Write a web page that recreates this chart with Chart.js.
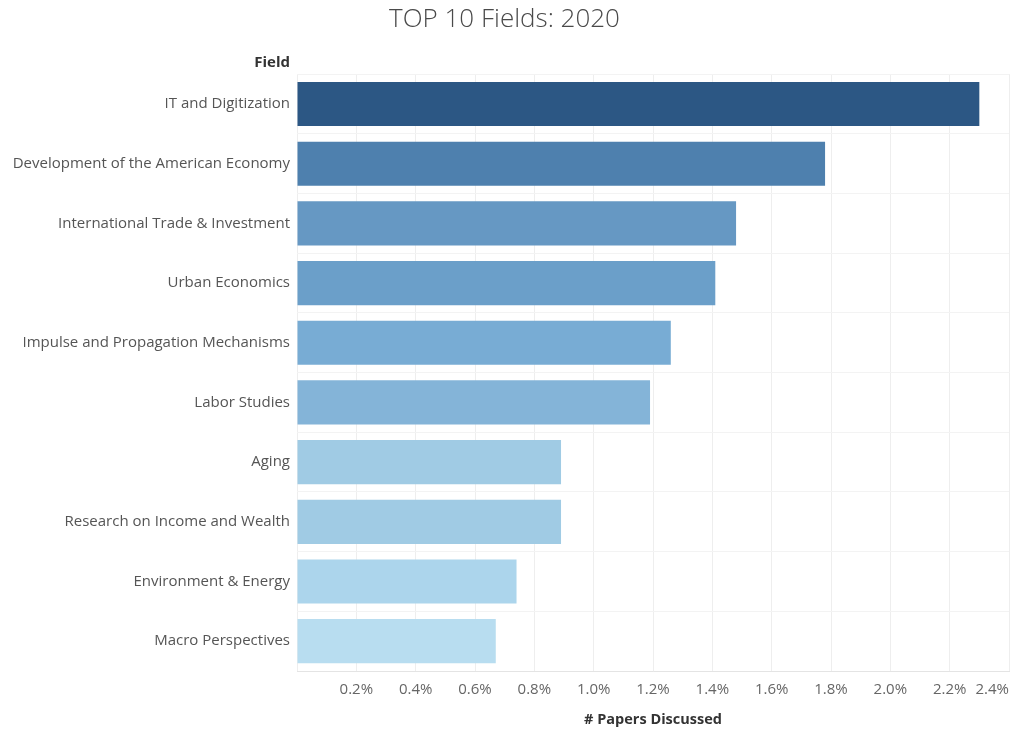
<!DOCTYPE html>
<html>
<head>
<meta charset="utf-8">
<title>TOP 10 Fields: 2020</title>
<script src="https://cdn.jsdelivr.net/npm/chart.js@4"></script>
<style>
  html, body { margin: 0; padding: 0; background: #ffffff; }
  #wrap { width: 1016px; height: 734px; position: relative; }
</style>
</head>
<body>
<div id="wrap"><canvas id="chart"></canvas></div>
<script>
// Share of papers discussed, by field (percent)
const fields = [
  'IT and Digitization',
  'Development of the American Economy',
  'International Trade & Investment',
  'Urban Economics',
  'Impulse and Propagation Mechanisms',
  'Labor Studies',
  'Aging',
  'Research on Income and Wealth',
  'Environment & Energy',
  'Macro Perspectives'
];
const sharePct = [2.30, 1.78, 1.48, 1.41, 1.26, 1.19, 0.89, 0.89, 0.74, 0.67];
const tickValues = [0.2, 0.4, 0.6, 0.8, 1.0, 1.2, 1.4, 1.6, 1.8, 2.0, 2.2, 2.4];

// Sequential blue shading, darkest for the largest share
const barColors = [
  '#2c5784', '#4e80ae', '#6698c3', '#6b9fc9', '#78acd4',
  '#84b4d8', '#a0cbe4', '#a0cbe4', '#acd5ec', '#b8ddf0'
];

const FONT = '"Open Sans", Lato, "DejaVu Sans", sans-serif';

// Column header above the category labels
const fieldHeader = {
  id: 'fieldHeader',
  afterDraw(chart) {
    const y = chart.scales.y;
    const ctx = chart.ctx;
    ctx.save();
    ctx.font = 'bold 15px ' + FONT;
    ctx.fillStyle = '#333333';
    ctx.textAlign = 'right';
    ctx.textBaseline = 'middle';
    ctx.fillText('Field', y.right - 7, 63);
    ctx.restore();
  }
};

new Chart(document.getElementById('chart'), {
  type: 'bar',
  data: {
    labels: fields,
    datasets: [{
      label: '# Papers Discussed',
      data: sharePct,
      backgroundColor: barColors,
      borderWidth: 0,
      categoryPercentage: 1.0,
      barPercentage: 0.74
    }]
  },
  options: {
    indexAxis: 'y',
    responsive: true,
    maintainAspectRatio: false,
    animation: false,
    layout: { padding: { left: 0, right: 7, top: 0, bottom: 0 } },
    plugins: {
      legend: { display: false },
      tooltip: { enabled: false },
      title: {
        display: true,
        text: 'TOP 10 Fields: 2020',
        color: '#4a4a4a',
        font: { family: FONT, size: 26, weight: 300 },
        padding: { top: 4, bottom: 39 }
      }
    },
    scales: {
      x: {
        type: 'linear',
        min: 0,
        max: 2.4,
        afterBuildTicks(scale) {
          scale.ticks = [{ value: 0 }].concat(tickValues.map(v => ({ value: v })));
        },
        afterFit(scale) {
          scale.height = 63;
          scale.paddingLeft = 0;
          scale.paddingRight = 0;
        },
        border: { display: true, color: '#e4e4e4' },
        grid: { color: '#eeeeee', drawTicks: false },
        ticks: {
          align: 'inner',
          padding: 10,
          color: '#666666',
          font: { family: FONT, size: 15 },
          maxRotation: 0,
          autoSkip: false,
          callback: v => (v === 0 ? '' : v.toFixed(1) + '%')
        },
        title: {
          display: true,
          text: '# Papers Discussed',
          color: '#333333',
          font: { family: FONT, size: 14.5, weight: 'bold' },
          padding: { top: 0, bottom: 5 }
        }
      },
      y: {
        afterFit(scale) { scale.width = 297; },
        border: { display: false },
        grid: { offset: true, color: '#f3f3f3', drawTicks: false },
        ticks: {
          padding: 7,
          color: '#555555',
          font: { family: FONT, size: 15 },
          autoSkip: false
        }
      }
    }
  },
  plugins: [fieldHeader]
});
</script>
</body>
</html>
